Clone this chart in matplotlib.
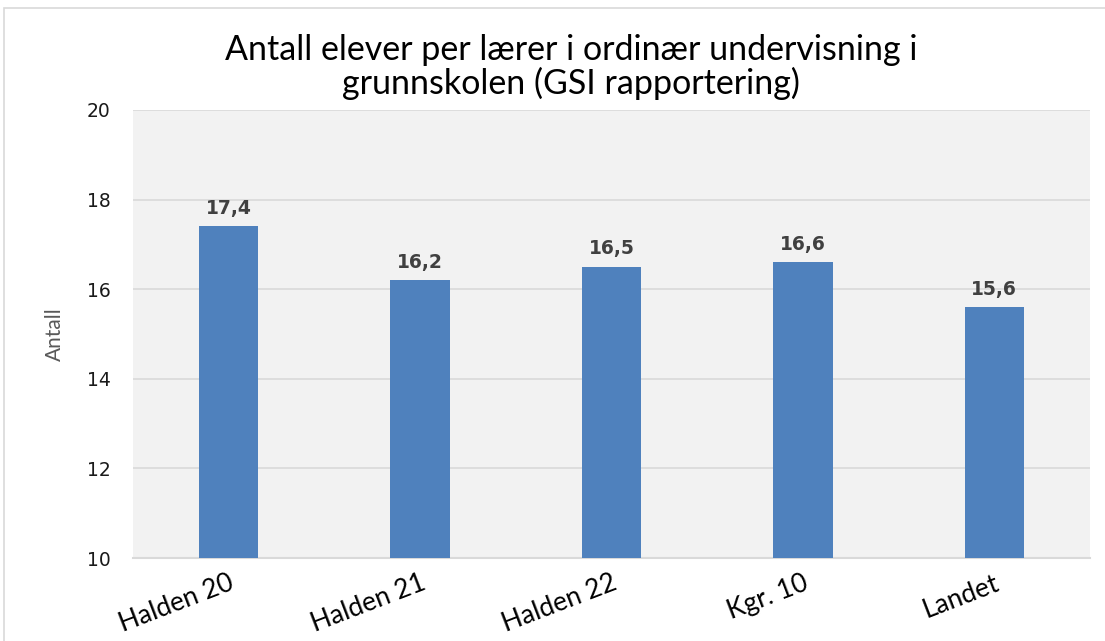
import matplotlib
matplotlib.use("Agg")
import matplotlib.pyplot as plt
from matplotlib.patches import Rectangle

categories = ["Halden 20", "Halden 21", "Halden 22", "Kgr. 10", "Landet"]
values = [17.4, 16.2, 16.5, 16.6, 15.6]
yticks = [10, 12, 14, 16, 18, 20]

narrow = ["Lato", "DejaVu Sans"]

fig = plt.figure(figsize=(11.05, 6.41), dpi=100)
fig.patch.set_facecolor("white")
fig.add_artist(Rectangle((0.004, -0.01), 1.1, 0.997, transform=fig.transFigure,
                         fill=False, edgecolor="#d9d9d9", linewidth=1.2))

ax = fig.add_axes([133 / 1105, 1 - 558 / 641, (1090 - 133) / 1105, (558 - 110) / 641])
ax.set_facecolor("#f2f2f2")
x = list(range(len(categories)))
ax.bar(x, values, width=0.31, color="#4f81bd", zorder=3)
ax.set_xlim(-0.5, len(categories) - 0.5)
ax.set_ylim(10, 20)
ax.set_yticks(yticks)
ax.set_yticklabels([str(t) for t in yticks], fontsize=13.5, color="#1a1a1a")
ax.yaxis.grid(True, color="#d9d9d9", linewidth=1.2, zorder=0)
ax.set_axisbelow(True)
for s in ["top", "right", "left"]:
    ax.spines[s].set_visible(False)
ax.spines["bottom"].set_color("#d9d9d9")
ax.spines["bottom"].set_linewidth(1.5)
ax.tick_params(axis="both", length=0)
ax.tick_params(axis="y", pad=16)

ax.set_xticks(x)
ax.set_xticklabels(categories, rotation=21, ha="right", rotation_mode="anchor",
                   fontsize=19, family=narrow, color="black")
ax.tick_params(axis="x", pad=9)

for xi, v in zip(x, values):
    ax.annotate(f"{v:.1f}".replace(".", ","), (xi, v), xytext=(0, 6),
                textcoords="offset points", ha="center", va="bottom",
                fontsize=13.5, fontweight="bold", color="#404040")

ax.set_ylabel("Antall", family=narrow, fontsize=15, color="#595959", labelpad=16)

fig.text(571 / 1105, 1 - 50 / 641, "Antall elever per lærer i ordinær undervisning i",
         ha="center", va="center", fontsize=24.5, family=narrow, color="black")
fig.text(571 / 1105, 1 - 83 / 641, "grunnskolen (GSI rapportering)",
         ha="center", va="center", fontsize=24.5, family=narrow, color="black")

fig.savefig("out.png", dpi=100)
